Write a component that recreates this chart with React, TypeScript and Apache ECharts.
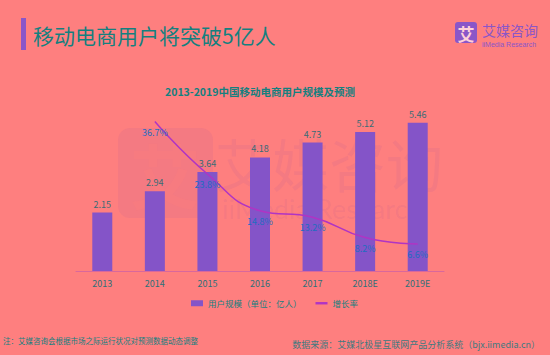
import React, { useEffect, useRef } from "react";
import * as echarts from "echarts";

const categories = ["2013", "2014", "2015", "2016", "2017", "2018E", "2019E"];
const users = [2.15, 2.94, 3.64, 4.18, 4.73, 5.12, 5.46];
const growth: (number | null)[] = [null, 36.7, 23.8, 14.8, 13.2, 8.2, 6.6];
const legendNames = ["用户规模（单位：亿人）", "增长率"];

const BG = "#fe7f7f";
const TEAL = "#14807f";
const PURPLE = "#8454c8";
const LINE = "#b034c4";
const WM = "rgba(120,50,170,0.07)";

export default function App() {
  const ref = useRef<HTMLDivElement>(null);
  useEffect(() => {
    if (!ref.current) return;
    const chart = echarts.init(ref.current, undefined, { renderer: "svg" });
    chart.setOption({
      animation: false,
      backgroundColor: BG,
      textStyle: { fontFamily: "'Noto Sans CJK SC', 'Noto Sans', sans-serif" },
      title: {
        text: "2013-2019中国移动电商用户规模及预测",
        left: 160,
        top: 81,
        textStyle: { color: TEAL, fontSize: 10.5, fontWeight: "bold" },
      },
      grid: { left: 76, right: 106, top: 108, bottom: 84 },
      legend: {
        left: 186,
        top: 294,
        itemWidth: 12,
        itemHeight: 6,
        itemGap: 14,
        textStyle: { color: TEAL, fontSize: 8.5 },
        data: [
          { name: legendNames[0], icon: "rect" },
          { name: legendNames[1], icon: "path://M0,0 L10,0 L10,2 L0,2 Z", itemStyle: { color: LINE } },
        ],
      },
      xAxis: {
        type: "category",
        data: categories,
        axisLine: { lineStyle: { color: "#d8689c", width: 1 } },
        axisTick: { show: false },
        axisLabel: { color: "#2f6f78", fontSize: 9, margin: 8 },
      },
      yAxis: [
        { type: "value", min: 0, max: 6, show: false },
        { type: "value", min: 0, max: 40, show: false },
      ],
      series: [
        {
          name: legendNames[0],
          type: "bar",
          data: users,
          barWidth: 20,
          itemStyle: { color: PURPLE },
          label: {
            show: true,
            position: "top",
            color: "#3a6c76",
            fontSize: 9,
            distance: 4,
          },
          z: 2,
        },
        {
          name: legendNames[1],
          type: "line",
          yAxisIndex: 1,
          data: growth,
          smooth: true,
          showSymbol: true,
          symbol: "circle",
          symbolSize: 0.1,
          lineStyle: { color: LINE, width: 1.5 },
          itemStyle: { color: LINE },
          label: {
            show: true,
            position: "bottom",
            distance: 6,
            color: "#1f6cc0",
            fontSize: 9,
            formatter: (p: any) => p.value + "%",
          },
          z: 3,
        },
      ],
      graphic: [
        // watermark
        {
          type: "rect",
          z: -10,
          silent: true,
          shape: { x: 118, y: 128, width: 95, height: 90, r: 12 },
          style: { fill: WM },
        },
        {
          type: "text",
          z: -10,
          silent: true,
          x: 165,
          y: 173,
          style: {
            text: "艾",
            fill: "rgba(254,127,127,0.3)",
            fontSize: 70,
            fontWeight: "bold",
            align: "center",
            verticalAlign: "middle",
            fontFamily: "'Noto Sans CJK SC'",
          },
        },
        {
          type: "text",
          z: -10,
          silent: true,
          x: 215,
          y: 162,
          style: {
            text: "艾媒咨询",
            fill: WM,
            fontSize: 57,
            verticalAlign: "middle",
            fontFamily: "'Noto Sans CJK SC'",
          },
        },
        {
          type: "text",
          z: -10,
          silent: true,
          x: 222,
          y: 208,
          style: {
            text: "iiMedia Research",
            fill: WM,
            fontSize: 27,
            verticalAlign: "middle",
            fontFamily: "Lato, sans-serif",
          },
        },
        // header bar and title
        {
          type: "rect",
          shape: { x: 21, y: 18, width: 5, height: 32 },
          style: { fill: "#8a56c8" },
        },
        {
          type: "text",
          x: 33,
          y: 35,
          style: {
            text: "移动电商用户将突破5亿人",
            fill: TEAL,
            fontSize: 21,
            verticalAlign: "middle",
            fontFamily: "'Noto Sans CJK SC'",
          },
        },
        // logo
        {
          type: "rect",
          shape: { x: 455, y: 22, width: 22, height: 21, r: 3 },
          style: { fill: "#8a56c8" },
        },
        {
          type: "text",
          x: 466,
          y: 33,
          style: {
            text: "艾",
            fill: "#ffd0d8",
            fontSize: 17,
            fontWeight: "bold",
            align: "center",
            verticalAlign: "middle",
            fontFamily: "'Noto Sans CJK SC'",
          },
        },
        {
          type: "text",
          x: 482,
          y: 30,
          style: {
            text: "艾媒咨询",
            fill: "#8a56c8",
            fontSize: 14,
            verticalAlign: "middle",
            fontFamily: "'Noto Sans CJK SC'",
          },
        },
        {
          type: "text",
          x: 482,
          y: 44,
          style: {
            text: "iiMedia Research",
            fill: "#8a56c8",
            fontSize: 7,
            verticalAlign: "middle",
            fontFamily: "'Liberation Sans', sans-serif",
          },
        },
        // footnotes
        {
          type: "text",
          x: 3,
          y: 340,
          style: {
            text: "注：艾媒咨询会根据市场之际运行状况对预测数据动态调整",
            fill: TEAL,
            fontSize: 7.5,
            verticalAlign: "middle",
            fontFamily: "'Noto Sans CJK SC'",
          },
        },
        {
          type: "text",
          x: 540,
          y: 344,
          style: {
            text: "数据来源：艾媒北极星互联网产品分析系统（bjx.iimedia.cn）",
            fill: "#3f7a80",
            fontSize: 9,
            align: "right",
            verticalAlign: "middle",
            fontFamily: "'Noto Sans CJK SC'",
          },
        },
      ],
    });
    return () => chart.dispose();
  }, []);
  return <div ref={ref} style={{ width: 550, height: 355, position: "absolute", left: 0, top: 0 }} />;
}
